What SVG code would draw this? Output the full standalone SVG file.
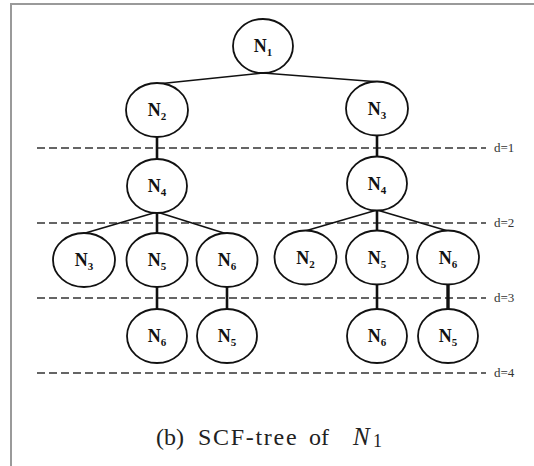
<svg xmlns="http://www.w3.org/2000/svg" width="534" height="466" viewBox="0 0 534 466">
<style>
.frame{stroke:#9a9a9a;stroke-width:2;fill:none}
.dash{stroke:#333;stroke-width:1.4;stroke-dasharray:8 4;fill:none}
.dl{font-family:"Liberation Serif",serif;font-size:13px;fill:#333}
.node ellipse{fill:#fff;stroke:#111;stroke-width:1.8}
.node text{font-family:"Liberation Serif",serif;font-weight:bold;font-size:18px;fill:#111;text-anchor:middle}
.sub{font-size:11px}
.e{stroke:#111;stroke-width:1.6;fill:none}
.v{stroke:#111;stroke-width:2.6;fill:none}
.cap{font-family:"Liberation Serif",serif;font-size:24px;fill:#222}
</style>
<rect width="534" height="466" fill="#fff"/>
<path class="frame" d="M11,466 V4 H534"/>
<g id="levels">
<line class="dash" x1="37" y1="148" x2="486" y2="148"/>
<line class="dash" x1="37" y1="223" x2="486" y2="223"/>
<line class="dash" x1="37" y1="298" x2="486" y2="298"/>
<line class="dash" x1="37" y1="373" x2="486" y2="373"/>
<text class="dl" x="494" y="152">d=1</text>
<text class="dl" x="494" y="227">d=2</text>
<text class="dl" x="494" y="302">d=3</text>
<text class="dl" x="494" y="377">d=4</text>
</g>
<g id="connectors">
<line class="e" x1="263" y1="73" x2="157" y2="84"/>
<line class="e" x1="263" y1="73" x2="380" y2="82"/>
<line class="v" x1="157" y1="137" x2="157" y2="159"/>
<line class="v" x1="377" y1="135" x2="377" y2="157"/>
<line class="e" x1="157" y1="212" x2="82" y2="234"/>
<line class="v" x1="157" y1="212" x2="157" y2="233"/>
<line class="e" x1="157" y1="212" x2="227" y2="234"/>
<line class="e" x1="377" y1="210" x2="305" y2="231"/>
<line class="v" x1="377" y1="210" x2="377" y2="231"/>
<line class="e" x1="377" y1="210" x2="448" y2="231"/>
<line class="v" x1="157" y1="287" x2="157" y2="309"/>
<line class="v" x1="227" y1="287" x2="227" y2="309"/>
<line class="v" x1="377" y1="284" x2="377" y2="309"/>
<line class="v" x1="448" y1="284" x2="448" y2="309" style="stroke-width:3.4"/>
</g>
<g id="n1" class="node"><ellipse cx="263" cy="46" rx="30" ry="27"/><text x="263" y="52">N<tspan class="sub" dy="4">1</tspan></text></g>
<g id="n2" class="node"><ellipse cx="157" cy="110" rx="31" ry="27"/><text x="157" y="116">N<tspan class="sub" dy="4">2</tspan></text></g>
<g id="n3" class="node"><ellipse cx="377" cy="108.5" rx="31" ry="27"/><text x="377" y="114.5">N<tspan class="sub" dy="4">3</tspan></text></g>
<g id="n4a" class="node"><ellipse cx="157" cy="186" rx="30" ry="27"/><text x="157" y="192">N<tspan class="sub" dy="4">4</tspan></text></g>
<g id="n4b" class="node"><ellipse cx="377" cy="183.5" rx="30" ry="27"/><text x="377" y="189.5">N<tspan class="sub" dy="4">4</tspan></text></g>
<g id="n3a" class="node"><ellipse cx="84" cy="260" rx="31" ry="27"/><text x="84" y="266">N<tspan class="sub" dy="4">3</tspan></text></g>
<g id="n5a" class="node"><ellipse cx="157" cy="260" rx="30.5" ry="27"/><text x="157" y="266">N<tspan class="sub" dy="4">5</tspan></text></g>
<g id="n6a" class="node"><ellipse cx="227" cy="260" rx="30.5" ry="27"/><text x="227" y="266">N<tspan class="sub" dy="4">6</tspan></text></g>
<g id="n2b" class="node"><ellipse cx="305.5" cy="257.5" rx="31" ry="27"/><text x="305.5" y="263.5">N<tspan class="sub" dy="4">2</tspan></text></g>
<g id="n5b" class="node"><ellipse cx="377" cy="257.5" rx="31" ry="27"/><text x="377" y="263.5">N<tspan class="sub" dy="4">5</tspan></text></g>
<g id="n6b" class="node"><ellipse cx="448" cy="257.5" rx="31" ry="27"/><text x="448" y="263.5">N<tspan class="sub" dy="4">6</tspan></text></g>
<g id="n6c" class="node"><ellipse cx="157" cy="336" rx="30" ry="27"/><text x="157" y="342">N<tspan class="sub" dy="4">6</tspan></text></g>
<g id="n5c" class="node"><ellipse cx="227" cy="336" rx="30" ry="27"/><text x="227" y="342">N<tspan class="sub" dy="4">5</tspan></text></g>
<g id="n6d" class="node"><ellipse cx="377" cy="336" rx="30" ry="27"/><text x="377" y="342">N<tspan class="sub" dy="4">6</tspan></text></g>
<g id="n5d" class="node"><ellipse cx="448" cy="336" rx="30" ry="27"/><text x="448" y="342">N<tspan class="sub" dy="4">5</tspan></text></g>
<g id="caption">
<text class="cap" y="445"><tspan x="156">(b)</tspan><tspan x="198" letter-spacing="1.7">SCF-tree</tspan><tspan x="309">of</tspan><tspan x="353" font-style="italic" font-size="25px">N</tspan><tspan x="373" dy="2" font-size="18px">1</tspan></text>
</g>
</svg>
